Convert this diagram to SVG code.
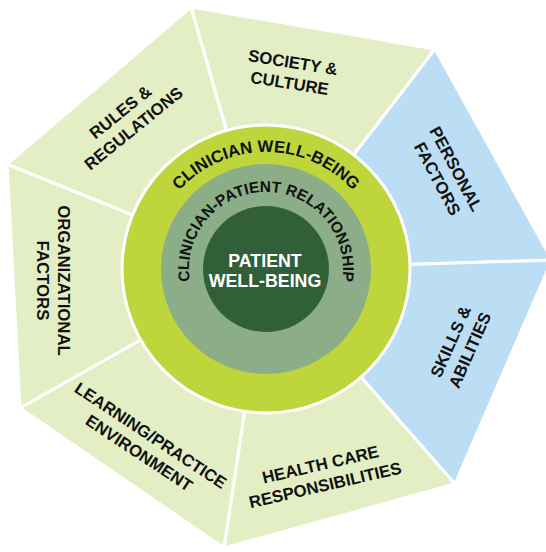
<svg xmlns="http://www.w3.org/2000/svg" width="546" height="552" viewBox="0 0 546 552">
<style>
.seg{stroke:#fff;stroke-width:3;stroke-linejoin:round}
.g{fill:#E4EEC4}
.b{fill:#BBDEF5}
.lbl{font-family:"Liberation Sans",Arial,sans-serif;font-weight:bold;font-size:16.8px;fill:#111;text-anchor:middle}
.arc{font-family:"Liberation Sans",Arial,sans-serif;font-weight:bold;fill:#111;text-anchor:middle}
.ctr{font-family:"Liberation Sans",Arial,sans-serif;font-weight:bold;font-size:17.8px;fill:#fff;text-anchor:middle}
</style>
<defs>
<path id="arcOuter" d="M266,386 A117,117 0 1 1 266,152 A117,117 0 1 1 266,386"/>
<path id="arcMid" d="M266,346 A77,77 0 1 1 266,192 A77,77 0 1 1 266,346"/>
</defs>
<g id="society">
<polygon class="seg g" points="266,269 191,7 435,49"/>
<g transform="translate(291.3,72.5) rotate(9)"><text class="lbl" y="-4.4">SOCIETY &amp;</text><text class="lbl" y="16.6">CULTURE</text></g>
</g>
<g id="personal">
<polygon class="seg b" points="266,269 435,49 552,260"/>
<g transform="translate(447,173.8) rotate(62)"><text class="lbl" y="-4.4">PERSONAL</text><text class="lbl" y="16.6">FACTORS</text></g>
</g>
<g id="skills">
<polygon class="seg b" points="266,269 552,260 455,484"/>
<g transform="translate(460,345.7) rotate(-66)"><text class="lbl" y="-4.4">SKILLS &amp;</text><text class="lbl" y="16.6">ABILITIES</text></g>
</g>
<g id="health">
<polygon class="seg g" points="266,269 455,484 224,548"/>
<g transform="translate(322.7,474.5) rotate(-13)"><text class="lbl" y="-4.4">HEALTH CARE</text><text class="lbl" y="16.6">RESPONSIBILITIES</text></g>
</g>
<g id="learning">
<polygon class="seg g" points="266,269 224,548 20,408"/>
<g transform="translate(145,444) rotate(33.5)"><text class="lbl" y="-4.4">LEARNING/PRACTICE</text><text class="lbl" y="16.6">ENVIRONMENT</text></g>
</g>
<g id="organizational">
<polygon class="seg g" points="266,269 20,408 7,164"/>
<g transform="translate(53.7,280.5) rotate(90)"><text class="lbl" y="-4.4">ORGANIZATIONAL</text><text class="lbl" y="16.6">FACTORS</text></g>
</g>
<g id="rules">
<polygon class="seg g" points="266,269 7,164 191,7"/>
<g transform="translate(126.7,120) rotate(-39)"><text class="lbl" y="-4.4">RULES &amp;</text><text class="lbl" y="16.6">REGULATIONS</text></g>
</g>
<g id="clinician-well-being">
<circle cx="266" cy="269" r="144" fill="#BED63C" stroke="#fff" stroke-width="3"/>
<text class="arc" font-size="16.8"><textPath href="#arcOuter" startOffset="50%">CLINICIAN WELL-BEING</textPath></text>
</g>
<g id="clinician-patient-relationship">
<circle cx="266" cy="269" r="105" fill="#8BAE88"/>
<text class="arc" font-size="15.5"><textPath href="#arcMid" startOffset="50%">CLINICIAN-PATIENT RELATIONSHIP</textPath></text>
</g>
<g id="patient-well-being">
<circle cx="266" cy="269" r="63" fill="#316038"/>
<text class="ctr" x="265" y="267">PATIENT</text>
<text class="ctr" x="265" y="287">WELL-BEING</text>
</g>
</svg>
